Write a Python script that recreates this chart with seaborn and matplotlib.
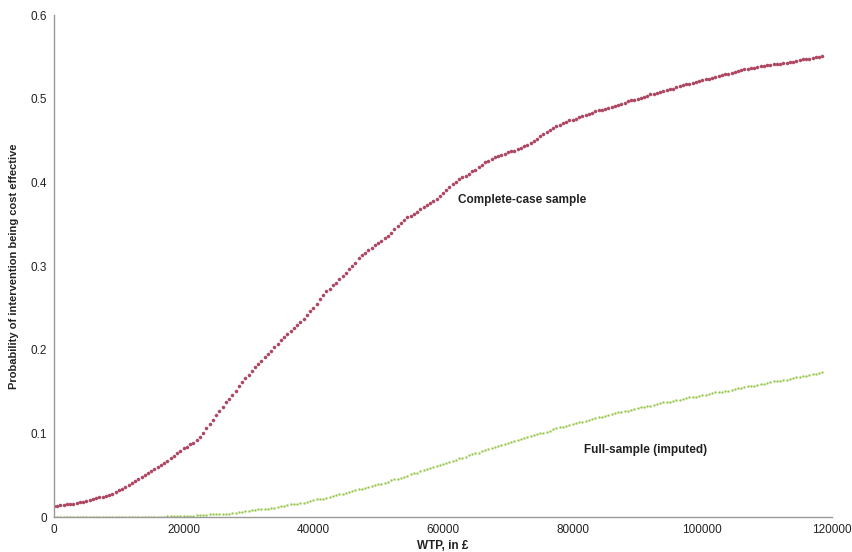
import matplotlib
matplotlib.use("Agg")
import matplotlib.pyplot as plt
import seaborn as sns
import pandas as pd
import numpy as np

# probability of being cost effective, read every 500 GBP of WTP (0 .. 118500)
complete_case = [
    0.013, 0.013, 0.014, 0.014, 0.015, 0.016, 0.016, 0.017, 0.018, 0.018,
    0.019, 0.020, 0.021, 0.023, 0.024, 0.024, 0.025, 0.026, 0.028, 0.030,
    0.032, 0.034, 0.036, 0.038, 0.041, 0.043, 0.045, 0.048, 0.050, 0.053,
    0.055, 0.057, 0.060, 0.062, 0.065, 0.067, 0.070, 0.073, 0.076, 0.079,
    0.082, 0.084, 0.087, 0.089, 0.092, 0.096, 0.101, 0.106, 0.111, 0.116,
    0.122, 0.127, 0.132, 0.137, 0.141, 0.146, 0.151, 0.156, 0.161, 0.166,
    0.170, 0.175, 0.179, 0.183, 0.187, 0.191, 0.195, 0.199, 0.203, 0.207,
    0.211, 0.215, 0.219, 0.222, 0.226, 0.229, 0.233, 0.237, 0.241, 0.246,
    0.250, 0.255, 0.260, 0.265, 0.270, 0.273, 0.277, 0.280, 0.284, 0.288,
    0.292, 0.296, 0.300, 0.304, 0.309, 0.313, 0.316, 0.319, 0.322, 0.325,
    0.327, 0.330, 0.333, 0.336, 0.340, 0.344, 0.348, 0.352, 0.355, 0.358,
    0.360, 0.362, 0.365, 0.368, 0.370, 0.373, 0.375, 0.378, 0.380, 0.384,
    0.387, 0.391, 0.395, 0.398, 0.401, 0.404, 0.406, 0.408, 0.410, 0.413,
    0.415, 0.418, 0.421, 0.424, 0.426, 0.428, 0.430, 0.431, 0.433, 0.434,
    0.436, 0.437, 0.438, 0.440, 0.441, 0.443, 0.445, 0.447, 0.450, 0.452,
    0.455, 0.458, 0.460, 0.463, 0.465, 0.467, 0.469, 0.471, 0.472, 0.474,
    0.475, 0.476, 0.478, 0.479, 0.481, 0.482, 0.483, 0.485, 0.486, 0.487,
    0.488, 0.489, 0.490, 0.491, 0.493, 0.494, 0.495, 0.497, 0.498, 0.499,
    0.500, 0.501, 0.502, 0.503, 0.505, 0.506, 0.507, 0.508, 0.509, 0.510,
    0.511, 0.512, 0.514, 0.515, 0.516, 0.517, 0.518, 0.519, 0.520, 0.521,
    0.522, 0.523, 0.524, 0.525, 0.526, 0.527, 0.528, 0.529, 0.530, 0.531,
    0.532, 0.533, 0.534, 0.535, 0.536, 0.537, 0.537, 0.538, 0.539, 0.539,
    0.540, 0.540, 0.541, 0.541, 0.542, 0.543, 0.543, 0.544, 0.544, 0.545,
    0.546, 0.547, 0.548, 0.548, 0.549, 0.550, 0.550, 0.551,
]

full_sample = [
    0.000, 0.000, 0.000, 0.000, 0.000, 0.000, 0.000, 0.000, 0.000, 0.000,
    0.000, 0.000, 0.000, 0.000, 0.000, 0.000, 0.000, 0.000, 0.000, 0.000,
    0.000, 0.000, 0.000, 0.000, 0.000, 0.000, 0.000, 0.000, 0.000, 0.000,
    0.000, 0.000, 0.000, 0.000, 0.000, 0.001, 0.001, 0.001, 0.001, 0.001,
    0.001, 0.001, 0.001, 0.001, 0.002, 0.002, 0.002, 0.002, 0.003, 0.003,
    0.003, 0.003, 0.004, 0.004, 0.004, 0.005, 0.005, 0.006, 0.006, 0.007,
    0.007, 0.008, 0.008, 0.009, 0.009, 0.010, 0.010, 0.011, 0.011, 0.012,
    0.013, 0.013, 0.014, 0.015, 0.015, 0.016, 0.017, 0.017, 0.018, 0.019,
    0.020, 0.021, 0.021, 0.022, 0.023, 0.024, 0.025, 0.026, 0.027, 0.028,
    0.029, 0.030, 0.031, 0.032, 0.033, 0.034, 0.035, 0.036, 0.037, 0.038,
    0.039, 0.040, 0.041, 0.042, 0.044, 0.045, 0.046, 0.047, 0.048, 0.049,
    0.051, 0.052, 0.053, 0.055, 0.056, 0.057, 0.058, 0.060, 0.061, 0.062,
    0.063, 0.065, 0.066, 0.067, 0.068, 0.070, 0.071, 0.072, 0.074, 0.075,
    0.076, 0.077, 0.079, 0.080, 0.081, 0.082, 0.084, 0.085, 0.086, 0.087,
    0.088, 0.090, 0.091, 0.092, 0.093, 0.094, 0.096, 0.097, 0.098, 0.099,
    0.100, 0.101, 0.102, 0.103, 0.105, 0.106, 0.107, 0.108, 0.109, 0.110,
    0.111, 0.112, 0.113, 0.114, 0.115, 0.116, 0.117, 0.118, 0.119, 0.120,
    0.121, 0.122, 0.123, 0.124, 0.125, 0.126, 0.127, 0.127, 0.128, 0.129,
    0.130, 0.131, 0.132, 0.133, 0.133, 0.134, 0.135, 0.136, 0.137, 0.137,
    0.138, 0.139, 0.140, 0.140, 0.141, 0.142, 0.143, 0.143, 0.144, 0.145,
    0.146, 0.146, 0.147, 0.148, 0.149, 0.149, 0.150, 0.151, 0.151, 0.152,
    0.153, 0.154, 0.154, 0.155, 0.156, 0.157, 0.157, 0.158, 0.159, 0.159,
    0.160, 0.161, 0.162, 0.162, 0.163, 0.164, 0.164, 0.165, 0.166, 0.167,
    0.167, 0.168, 0.169, 0.170, 0.171, 0.171, 0.172, 0.173,
]

wtp_step = 500
wtp = np.arange(len(complete_case)) * wtp_step

x_ticks = [0, 20000, 40000, 60000, 80000, 100000, 120000]
y_ticks = [0, 0.1, 0.2, 0.3, 0.4, 0.5, 0.6]
y_tick_labels = ["0", "0.1", "0.2", "0.3", "0.4", "0.5", "0.6"]

df = pd.DataFrame({"wtp": wtp, "complete": complete_case, "full": full_sample})

sns.set_theme(style="white")
plt.rcParams["font.family"] = ["Liberation Sans", "DejaVu Sans"]

fig = plt.figure(figsize=(8.53, 5.52), dpi=100)
ax = fig.add_axes([0.0633, 0.0634, 0.9121, 0.9094])

sns.scatterplot(data=df, x="wtp", y="complete", ax=ax, s=5, color="#b8455c",
                edgecolor="#9a4468", linewidth=0.3, legend=False)
sns.scatterplot(data=df, x="wtp", y="full", ax=ax, s=2.5, color="#96c84a",
                edgecolor="#96c84a", linewidth=0.1, legend=False)

ax.set_xlim(0, 120000)
ax.set_ylim(0, 0.6)
ax.set_xticks(x_ticks)
ax.set_xticklabels([str(t) for t in x_ticks])
ax.set_yticks(y_ticks)
ax.set_yticklabels(y_tick_labels)
ax.tick_params(axis="both", length=0, labelsize=8.5, colors="#222222", pad=5)

ax.set_xlabel("WTP, in £", fontsize=8.5, fontweight="bold", color="#222222", labelpad=3)
ax.set_ylabel("Probability of intervention being cost effective", fontsize=8,
              fontweight="bold", color="#222222", labelpad=8)

for side in ["top", "right"]:
    ax.spines[side].set_visible(False)
for side in ["left", "bottom"]:
    ax.spines[side].set_color("#999999")
    ax.spines[side].set_linewidth(1.0)

ax.text(62300, 0.379, "Complete-case sample", fontsize=8.5, fontweight="bold",
        color="#222222", va="center", ha="left")
ax.text(81700, 0.080, "Full-sample (imputed)", fontsize=8.5, fontweight="bold",
        color="#222222", va="center", ha="left")

plt.savefig("out.png", dpi=100)
plt.close()
